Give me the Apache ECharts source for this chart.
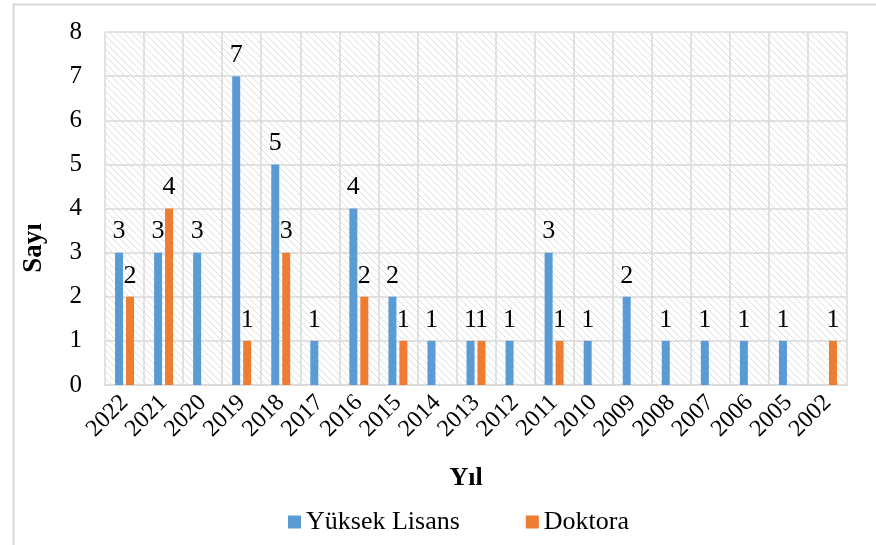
<!DOCTYPE html>
<html>
<head>
<meta charset="utf-8">
<script src="https://cdn.jsdelivr.net/npm/echarts@6/dist/echarts.min.js"></script>
<style>html,body{margin:0;padding:0;background:#fff}#c{width:876px;height:545px}</style>
</head>
<body>
<div id="c"></div>
<script>
const categories = ['2022','2021','2020','2019','2018','2017','2016','2015','2014','2013','2012','2011','2010','2009','2008','2007','2006','2005','2002'];
const yuksekLisans = [3,3,3,7,5,1,4,2,1,1,1,3,1,2,1,1,1,1,0];
const doktora      = [2,4,0,1,3,0,2,1,0,1,0,1,0,0,0,0,0,0,1];
const yTicks = [0,1,2,3,4,5,6,7,8];

const FONT = 'Liberation Serif';

// hatch pattern
const tile = document.createElement('canvas');
tile.width = 7; tile.height = 7;
const tc = tile.getContext('2d');
tc.fillStyle = '#ffffff'; tc.fillRect(0,0,7,7);
tc.strokeStyle = '#dedede'; tc.lineWidth = 1;
tc.beginPath();
tc.moveTo(-1,-1); tc.lineTo(8,8);
tc.moveTo(-1,6); tc.lineTo(1,8);
tc.moveTo(6,-1); tc.lineTo(8,1);
tc.stroke();

const chart = echarts.init(document.getElementById('c'), null, {renderer:'canvas'});
const labelFmt = p => (p.value ? String(p.value) : '');
const lbl = {show:true, position:'top', distance:8, formatter: labelFmt, fontFamily:FONT, fontSize:26, color:'#000'};
chart.setOption({
  animation: false,
  textStyle: {fontFamily: FONT},
  grid: {left:105, right:29, top:32, bottom:160, show:true, borderWidth:0,
         backgroundColor: {image: tile, repeat: 'repeat'}},
  legend: {
    data: ['Yüksek Lisans','Doktora'],
    left: 283, top: 504,
    icon: 'rect', itemWidth: 13, itemHeight: 13, itemGap: 66,
    textStyle: {fontFamily: FONT, fontSize: 26, color: '#000'}
  },
  xAxis: {
    type: 'category', data: categories,
    axisLine: {show:true, lineStyle:{color:'#d9d9d9', width:1.5}},
    axisTick: {show:false},
    splitLine: {show:true, interval:0, lineStyle:{color:'#d9d9d9', width:1.5}},
    axisLabel: {interval:0, rotate:45, fontFamily: FONT, fontSize:24, color:'#000', margin:14}
  },
  yAxis: {
    type: 'value', min: 0, max: 8, interval: 1,
    axisLine: {show:false}, axisTick:{show:false},
    splitLine: {show:true, lineStyle:{color:'#d9d9d9', width:1.5}},
    axisLabel: {fontFamily: FONT, fontSize:25, color:'#000', margin:23,
                formatter: v => yTicks.includes(v) ? String(v) : ''}
  },
  series: [
    {name:'Yüksek Lisans', type:'bar', data: yuksekLisans, barWidth:8, barGap:'37%',
     itemStyle:{color:'#5b9bd5'}, label: lbl},
    {name:'Doktora', type:'bar', data: doktora, barWidth:8, barGap:'37%',
     itemStyle:{color:'#ed7d31'}, label: lbl}
  ],
  graphic: [
    {type:'rect', left:11, top:2, shape:{width:900, height:600}, silent:true, z:-10,
     style:{fill:'none', stroke:'#d9d9d9', lineWidth:2}},
    {type:'text', x:466, y:478, style:{text:'Yıl', font:'bold 26px "Liberation Serif"', fill:'#000', textAlign:'center', textVerticalAlign:'middle'}},
    {type:'text', x:34, y:248, rotation:Math.PI/2, style:{text:'Sayı', font:'bold 27px "Liberation Serif"', fill:'#000', textAlign:'center', textVerticalAlign:'middle'}}
  ]
});
</script>
</body>
</html>
